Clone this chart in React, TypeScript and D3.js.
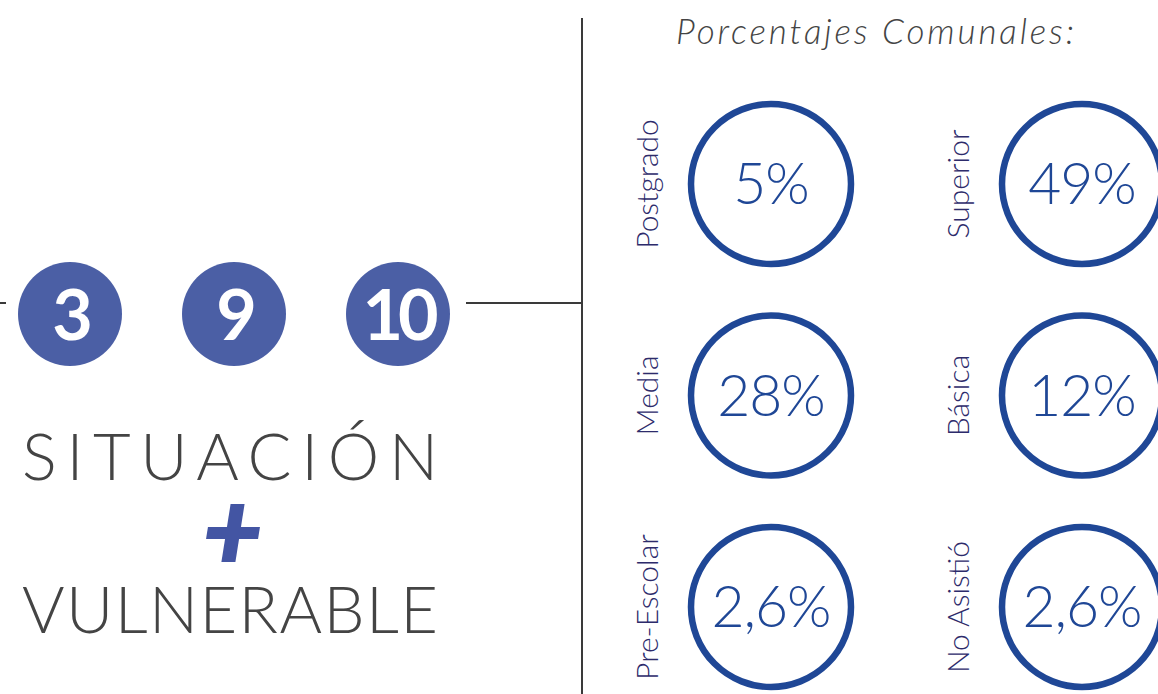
import React, { useEffect } from 'react';
import * as d3 from 'd3';

// education levels and their share in the commune (%)
const levels = ['Postgrado', 'Superior', 'Media', 'Básica', 'Pre-Escolar', 'No Asistió'];
const shares = [5, 49, 28, 12, 2.6, 2.6];
// vulnerability situations
const situations = [3, 9, 10];
const headline = ['SITUACIÓN', 'VULNERABLE'];
const title = 'Porcentajes Comunales:';

const W = 1158;
const H = 694;
const ink = '#444444';
const ringColor = '#1f4796';
const dotColor = '#4b5fa5';
const labelColor = '#2d2b6b';
const font = 'Lato, "Open Sans", sans-serif';

const esLocale = d3.formatLocale({ decimal: ',', thousands: '.', grouping: [3], currency: ['', ''] });
const fmt = esLocale.format('~');

const App = () => {
  useEffect(() => {
    document.body.style.margin = '0';
  }, []);

  const dotX = d3.scalePoint<string>().domain(situations.map(String)).range([70, 398]);
  const dotY = 314;
  const dotR = 52;

  const col = d3.scalePoint<number>().domain([0, 1]).range([771, 1082]);
  const row = d3.scalePoint<number>().domain([0, 1, 2]).range([184, 607]);
  const ringR = 80;

  return (
    <svg width={W} height={H} style={{ display: 'block', background: '#fff' }}>
      {/* connector lines */}
      <line x1={0} x2={6} y1={303} y2={303} stroke="#3a3a3a" strokeWidth={2} />
      <line x1={466} x2={582} y1={303} y2={303} stroke="#3a3a3a" strokeWidth={2} />
      <line x1={582} x2={582} y1={18} y2={H} stroke="#3a3a3a" strokeWidth={2} />

      {situations.map((s) => (
        <g key={s} transform={`translate(${dotX(String(s))},${dotY})`}>
          <circle r={dotR} fill={dotColor} />
          <text
            y={26}
            textAnchor="middle"
            fill="#fff"
            fontFamily={font}
            fontWeight={700}
            fontSize={70}
            letterSpacing={-5}
          >
            {s}
          </text>
        </g>
      ))}

      <text x={22} y={480} textLength={416} lengthAdjust="spacing" fill={ink} fontFamily={font} fontWeight={300} fontSize={65}>
        {headline[0]}
      </text>
      {/* slanted plus sign */}
      <g transform="translate(233,533) skewX(-9)" fill="#4355a3">
        <rect x={-7} y={-29} width={14} height={58} />
        <rect x={-26} y={-6} width={52} height={12} />
      </g>
      <text x={22} y={633} textLength={416} lengthAdjust="spacing" fill={ink} fontFamily={font} fontWeight={300} fontSize={65}>
        {headline[1]}
      </text>

      <text x={676} y={44} textLength={398} lengthAdjust="spacing" fill={ink} fontFamily={font} fontWeight={300} fontStyle="italic" fontSize={35}>
        {title}
      </text>

      {levels.map((lvl, i) => {
        const cx = col(i % 2)!;
        const cy = row(Math.floor(i / 2))!;
        return (
          <g key={lvl}>
            <circle cx={cx} cy={cy} r={ringR} fill="none" stroke={ringColor} strokeWidth={6.5} />
            <text
              x={cx}
              y={cy + 20}
              textAnchor="middle"
              fill={ringColor}
              fontFamily={font}
              fontWeight={300}
              fontSize={57}
              letterSpacing={-1}
            >
              {fmt(shares[i])}%
            </text>
            <text
              transform={`translate(${cx - 113},${cy}) rotate(-90)`}
              textAnchor="middle"
              fill={labelColor}
              fontFamily={font}
              fontWeight={300}
              fontSize={30}
            >
              {lvl}
            </text>
          </g>
        );
      })}
    </svg>
  );
};

export default App;
